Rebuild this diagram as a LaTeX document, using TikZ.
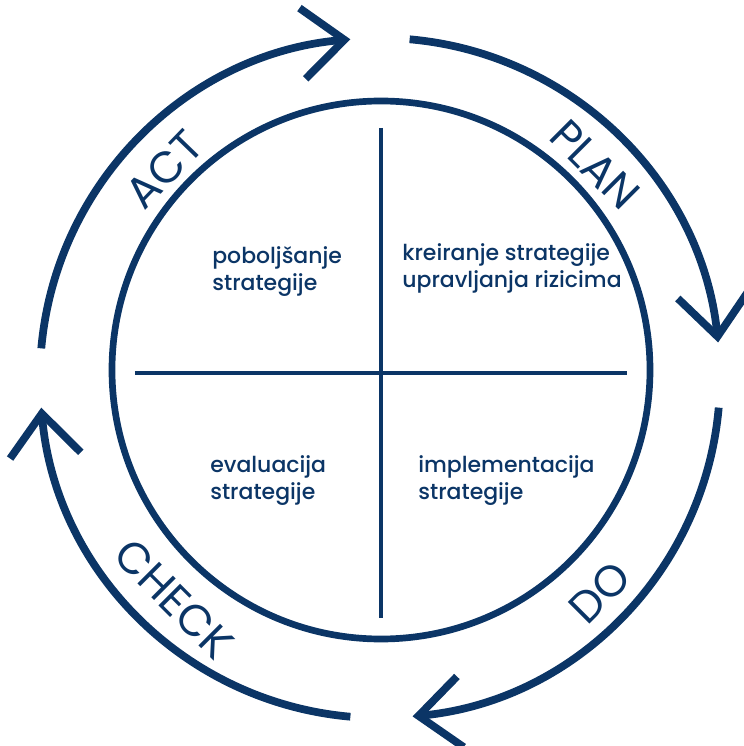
\documentclass[tikz,border=0pt]{standalone}
\usepackage{fontspec}
\setmainfont{Poppins}[BoldFont={Poppins Medium}]
\usetikzlibrary{arrows.meta}
\definecolor{pdcablue}{HTML}{0B3566}
\begin{document}
\begin{tikzpicture}
          [pdcablue,
           cyc/.style={line width=4.4pt, -{Straight Barb[length=0.84cm, width=1.42cm]}},
           quad/.style={anchor=north west, align=left, inner sep=0pt, font=\fontsize{12.5}{15.3}\selectfont\bfseries},
           stage/.style={inner sep=0pt, font=\fontsize{25}{25}\selectfont}]
        \useasboundingbox (-7.62,-7.52) rectangle (7.24,7.40);
        \coordinate (C) at (0,0);
        \coordinate (O) at (-0.02,-0.16);

        % inner circle with cross
        \draw[line width=3.8pt] (C) circle[radius=5.38];
        \coordinate (l) at (-4.92,-0.06);
        \coordinate (r) at (4.92,-0.06);
        \coordinate (t) at (0,4.84);
        \coordinate (b) at (0,-4.96);
        \draw[line width=2.2pt] (l) -- (r);
        \draw[line width=2.2pt] (t) -- (b);

        % outer cycle
        \foreach \from/\to in {175/95, 85/6, -5/-84.5, -95/-175}
          \draw[cyc] ([shift={(\from:6.8)}]O) arc[start angle=\from, end angle=\to, radius=6.8];

        \node[stage, rotate=46] (act) at ([shift={(136:6.0)}]O) {ACT};
        \node[stage, rotate=-45] (plan) at ([shift={(44.7:6.06)}]O) {PLAN};
        \node[stage, rotate=45] (do) at ([shift={(-44.3:6.14)}]O) {DO};
        \node[stage, rotate=-45] (check) at ([shift={(227:6.04)}]O) {CHECK};

        \node[quad] (tl) at (-3.38,2.48) {poboljšanje\\strategije};
        \node[quad] (tr) at (0.42,2.54) {kreiranje strategije\\upravljanja rizicima};
        \node[quad] (bl) at (-3.42,-1.70) {evaluacija\\strategije};
        \node[quad] (br) at (0.74,-1.70) {implementacija\\strategije};
      \end{tikzpicture}
\end{document}
